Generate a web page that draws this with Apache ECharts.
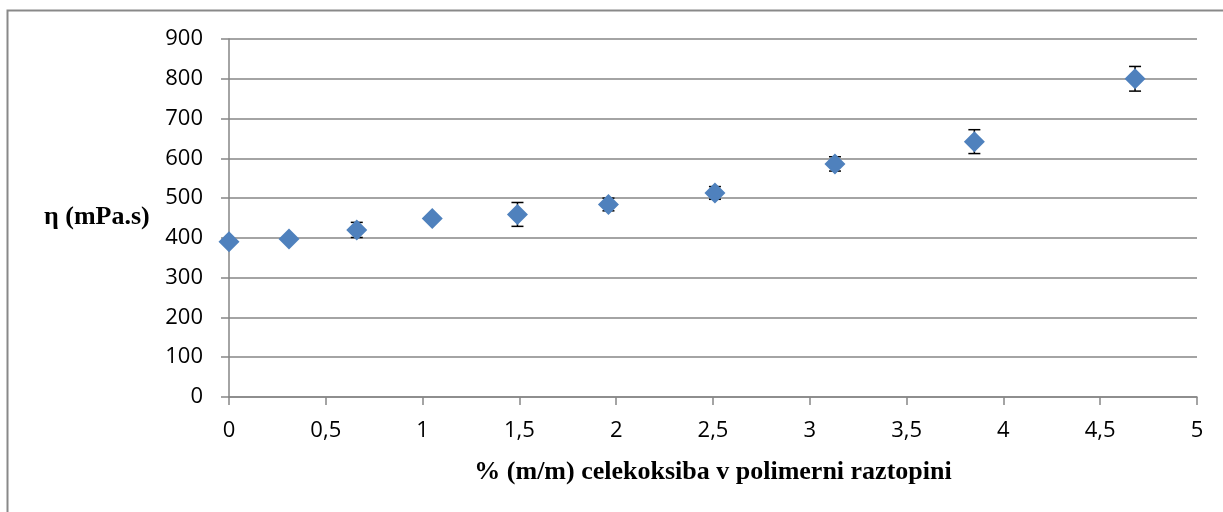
<!DOCTYPE html>
<html>
<head>
<meta charset="utf-8">
<script src="https://cdn.jsdelivr.net/npm/echarts@6/dist/echarts.min.js"></script>
<style>
  html, body { margin: 0; padding: 0; background: #fff; }
  #chart { width: 1223px; height: 512px; }
</style>
</head>
<body>
<div id="chart"></div>
<script>
// Viscosity of polymer solution vs. celecoxib content
const concentration = [0, 0.31, 0.66, 1.05, 1.49, 1.96, 2.51, 3.13, 3.85, 4.68];
const viscosity     = [390, 397, 420, 449, 459, 484, 513, 586, 642, 800];
const viscosityErr  = [4, 4, 19, 4, 30, 16, 16, 18, 30, 31];

const xTitle = '% (m/m) celekoksiba v polimerni raztopini';
const yTitle = 'η (mPa.s)';

const points = concentration.map((x, i) => [x, viscosity[i]]);
const bars = concentration.map((x, i) => [x, viscosity[i] - viscosityErr[i], viscosity[i] + viscosityErr[i]]);

const axisGray = '#868686';
const labelFont = { fontFamily: '"Open Sans", "Noto Sans", sans-serif', fontSize: 22, color: '#000' };

const chart = echarts.init(document.getElementById('chart'), null, { renderer: 'canvas' });
chart.setOption({
  animation: false,
  backgroundColor: '#fff',
  graphic: [
    {
      type: 'rect',
      shape: { x: 7.5, y: 10.5, width: 1240, height: 520 },
      style: { fill: 'none', stroke: '#898989', lineWidth: 2 },
      silent: true
    },
    {
      type: 'text',
      left: 44,
      top: 204,
      style: { text: yTitle, font: 'bold 26px "Liberation Serif", serif', fill: '#000' }
    }
  ],
  grid: { left: 229, right: 26, top: 39, bottom: 115 },
  xAxis: {
    type: 'value',
    min: 0, max: 5, interval: 0.5,
    name: xTitle,
    nameLocation: 'middle',
    nameGap: 62,
    nameTextStyle: { fontFamily: '"Liberation Serif", serif', fontWeight: 'bold', fontSize: 26, color: '#000' },
    axisLine: { show: true, onZero: false, lineStyle: { color: axisGray, width: 1.5 } },
    axisTick: { show: true, inside: false, length: 8, lineStyle: { color: axisGray, width: 1.5 } },
    axisLabel: Object.assign({ margin: 23, formatter: v => String(v).replace('.', ',') }, labelFont),
    splitLine: { show: false }
  },
  yAxis: {
    type: 'value',
    min: 0, max: 900, interval: 100,
    axisLine: { show: true, lineStyle: { color: axisGray, width: 1.5 } },
    axisTick: { show: true, inside: false, length: 8, lineStyle: { color: axisGray, width: 1.5 } },
    axisLabel: Object.assign({ margin: 26 }, labelFont),
    splitLine: { show: true, lineStyle: { color: axisGray, width: 1.5 } }
  },
  series: [
    {
      type: 'custom',
      z: 2,
      data: bars,
      renderItem: function (params, api) {
        const x = api.value(0);
        const lo = api.coord([x, api.value(1)]);
        const hi = api.coord([x, api.value(2)]);
        const half = 6;
        const style = { stroke: '#000', lineWidth: 1.5 };
        return {
          type: 'group',
          children: [
            { type: 'line', shape: { x1: lo[0], y1: lo[1], x2: hi[0], y2: hi[1] }, style: style },
            { type: 'line', shape: { x1: lo[0] - half, y1: lo[1], x2: lo[0] + half, y2: lo[1] }, style: style },
            { type: 'line', shape: { x1: hi[0] - half, y1: hi[1], x2: hi[0] + half, y2: hi[1] }, style: style }
          ]
        };
      }
    },
    {
      type: 'scatter',
      z: 3,
      data: points,
      symbol: 'diamond',
      symbolSize: [21, 21],
      itemStyle: { color: '#4F81BD', opacity: 1 }
    }
  ]
});
</script>
</body>
</html>
